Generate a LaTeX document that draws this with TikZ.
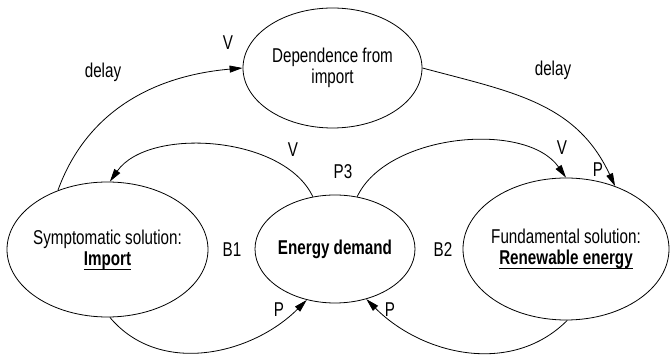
\documentclass[tikz,border=0pt]{standalone}
\usepackage{fontspec}
\setmainfont{Liberation Sans}[FakeStretch=0.76]
\usepackage{tikz}
\usetikzlibrary{shapes.geometric, arrows.meta}

\newcommand{\ulword}[1]{\underline{\raisebox{0pt}[\height][2.4pt]{#1}}}

\tikzset{
  bubble/.style={draw, ellipse, inner sep=0pt, line width=0.8pt},
  link/.style={-{Triangle[length=13pt,width=7pt]}, line width=0.8pt},
  tag/.style={inner sep=0pt}
}

\begin{document}
\begin{tikzpicture}[x=1pt,y=1pt, font=\fontsize{20}{21}\selectfont]
  \path[use as bounding box] (0,0) rectangle (670,361);
  \node[bubble, minimum width=179pt, minimum height=120pt,
        label={[align=center]center:{Dependence from\\import}}] (dep) at (332.5,293) {};
  \node[bubble, minimum width=201pt, minimum height=135pt,
        label={[align=center]center:{Symptomatic solution:\\\textbf{\ulword{Import}}}}] (symp) at (107.5,111.5) {};
  \node[bubble, minimum width=160pt, minimum height=108pt,
        label={center:\textbf{Energy demand}}] (demand) at (335,112) {};
  \node[bubble, minimum width=206pt, minimum height=142pt,
        label={[align=center]center:{Fundamental solution:\\\textbf{\ulword{Renewable energy}}}}] (fund) at (566,112) {};

  \draw[link] (symp.130) to[out=70, in=185] (dep.west);
  \draw[link] (dep.east) to[out=-15, in=115, looseness=1.05] (fund.52);
  \draw[link] (demand.113) to[out=115, in=55, looseness=0.85] (symp.88);
  \draw[link] (demand.67) to[out=65, in=125, looseness=0.85] (fund.north);
  \draw[link] (symp.-88) to[out=-50, in=-135] (demand.-119);
  \draw[link] (fund.-89) to[out=-135, in=-45] (demand.-58);

  \node[tag] (delayL) at (103,289) {delay};
  \node[tag] (delayR) at (553,291) {delay};
  \node[tag] (vImp) at (228,318) {V};
  \node[tag] (vSymp) at (293,211) {V};
  \node[tag] (vFund) at (562,213) {V};
  \node[tag] (pFund) at (598,191) {P};
  \node[tag] (pThree) at (343,189) {P3};
  \node[tag] (bOne) at (232,111) {B1};
  \node[tag] (bTwo) at (443,111) {B2};
  \node[tag] (pLeft) at (279,51) {P};
  \node[tag] (pRight) at (390,51) {P};
\end{tikzpicture}
\end{document}
